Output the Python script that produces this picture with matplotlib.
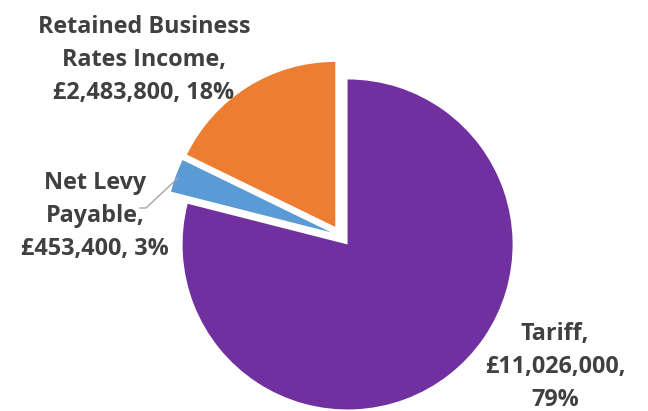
import matplotlib.pyplot as plt

labels = ["Tariff", "Net Levy\nPayable", "Retained Business\nRates Income"]
amounts = [11026000, 453400, 2483800]
percents = [79, 3, 18]
colors = ["#7030A0", "#5B9BD5", "#ED7D31"]
explode = [0.065, 0.065, 0.065]

W, H = 648, 411
cx, cy, r = 341, 236, 165

fig = plt.figure(figsize=(W / 100, H / 100), dpi=100)
ax = fig.add_axes([0, 0, 1, 1])

ax.pie(amounts, colors=colors, explode=explode, startangle=90,
       counterclock=False, radius=1.0, center=(0, 0), frame=True,
       wedgeprops=dict(linewidth=0))
ax.set_xlim(-cx / r, (W - cx) / r)
ax.set_ylim((cy - H) / r, cy / r)
ax.set_aspect("auto")
ax.axis("off")


def to_data(px, py):
    return (px - cx) / r, (cy - py) / r


texts = [
    f"{labels[0]},\n£{amounts[0]:,},\n{percents[0]}%",
    f"{labels[1]},\n£{amounts[1]:,}, {percents[1]}%",
    f"{labels[2]},\n£{amounts[2]:,}, {percents[2]}%",
]
positions = [(555, 367), (95, 216), (144, 60)]

for t, (px, py) in zip(texts, positions):
    x, y = to_data(px, py)
    ax.text(x, y, t, ha="center", va="center", multialignment="center",
            fontsize=16.8, fontweight="bold", color="#404040",
            family="Open Sans", linespacing=1.5)

# leader line for the small slice
x0, y0 = to_data(140, 208)
x1, y1 = to_data(146, 208)
x2, y2 = to_data(178, 178)
ax.plot([x0, x1, x2], [y0, y1, y2], color="#A6A6A6", lw=1)

fig.savefig("out.png", dpi=100)
